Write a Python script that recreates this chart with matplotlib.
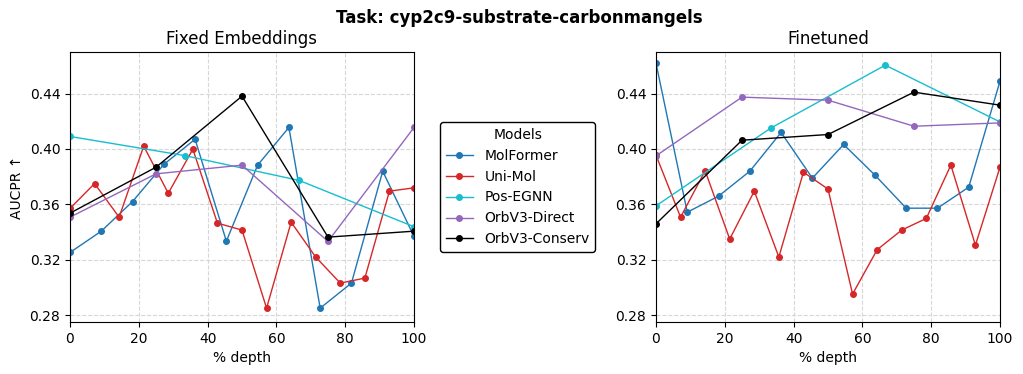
import numpy as np
import matplotlib
matplotlib.use("Agg")
import matplotlib.pyplot as plt

models = ["MolFormer", "Uni-Mol", "Pos-EGNN", "OrbV3-Direct", "OrbV3-Conserv"]
colors = ["tab:blue", "tab:red", "tab:cyan", "tab:purple", "black"]

# Fixed Embeddings
fixed_molformer = [0.3252, 0.3406, 0.362, 0.3888, 0.407, 0.3334, 0.3883, 0.4155, 0.285, 0.3031, 0.3839, 0.3368]
fixed_unimol = [0.357, 0.375, 0.3507, 0.402, 0.368, 0.3998, 0.3464, 0.3414, 0.285, 0.3471, 0.3219, 0.3031, 0.3067, 0.3695, 0.3719]
fixed_posegnn = [0.409, 0.3952, 0.3772, 0.3438]
fixed_orbdirect = [0.3507, 0.382, 0.3883, 0.3332, 0.4155]
fixed_orbconserv = [0.3536, 0.3868, 0.4381, 0.3363, 0.3406]

# Finetuned
ft_molformer = [0.4619, 0.3543, 0.3659, 0.3839, 0.4119, 0.3789, 0.4032, 0.3811, 0.3572, 0.3572, 0.3724, 0.4489]
ft_unimol = [0.3955, 0.3507, 0.3842, 0.3349, 0.3695, 0.3219, 0.3832, 0.371, 0.2952, 0.3272, 0.3414, 0.3498, 0.3883, 0.3305, 0.3868]
ft_posegnn = [0.3589, 0.415, 0.4605, 0.4195]
ft_orbdirect = [0.395, 0.4374, 0.4352, 0.4164, 0.4188]
ft_orbconserv = [0.3459, 0.4063, 0.4104, 0.441, 0.4316]

yticks = [0.28, 0.32, 0.36, 0.40, 0.44]
xticks = [0, 20, 40, 60, 80, 100]

fixed = [fixed_molformer, fixed_unimol, fixed_posegnn, fixed_orbdirect, fixed_orbconserv]
ft = [ft_molformer, ft_unimol, ft_posegnn, ft_orbdirect, ft_orbconserv]

fig = plt.figure(figsize=(10.23, 3.74), dpi=100)
W, H = 1023, 374
ax1 = fig.add_axes([70 / W, (H - 322) / H, 344 / W, 270 / H])
ax2 = fig.add_axes([656 / W, (H - 322) / H, 344 / W, 270 / H])

handles = []
for ax, data, title in [(ax1, fixed, "Fixed Embeddings"), (ax2, ft, "Finetuned")]:
    for name, c, vals in zip(models, colors, data):
        x = np.linspace(0, 100, len(vals))
        h, = ax.plot(x, vals, marker="o", color=c, lw=1, ms=4, label=name)
        if ax is ax1:
            handles.append(h)
    ax.set_xlim(0, 100)
    ax.set_ylim(0.275, 0.470)
    ax.set_xticks(xticks)
    ax.set_yticks(yticks)
    ax.set_yticklabels([f"{t:.2f}" for t in yticks])
    ax.grid(True, linestyle="--", color="lightgray", alpha=0.9, lw=0.8)
    ax.set_axisbelow(True)
    ax.set_xlabel("% depth")
    ax.set_title(title, fontsize=12)

ax1.set_ylabel("AUCPR ↑")
fig.suptitle("Task: cyp2c9-substrate-carbonmangels", fontweight="bold", fontsize=12, x=0.508, y=0.975)
fig.legend(handles, models, title="Models", loc="center", bbox_to_anchor=(0.506, 0.50),
           edgecolor="black", fancybox=True, framealpha=1)

fig.savefig("out.png", dpi=100)
